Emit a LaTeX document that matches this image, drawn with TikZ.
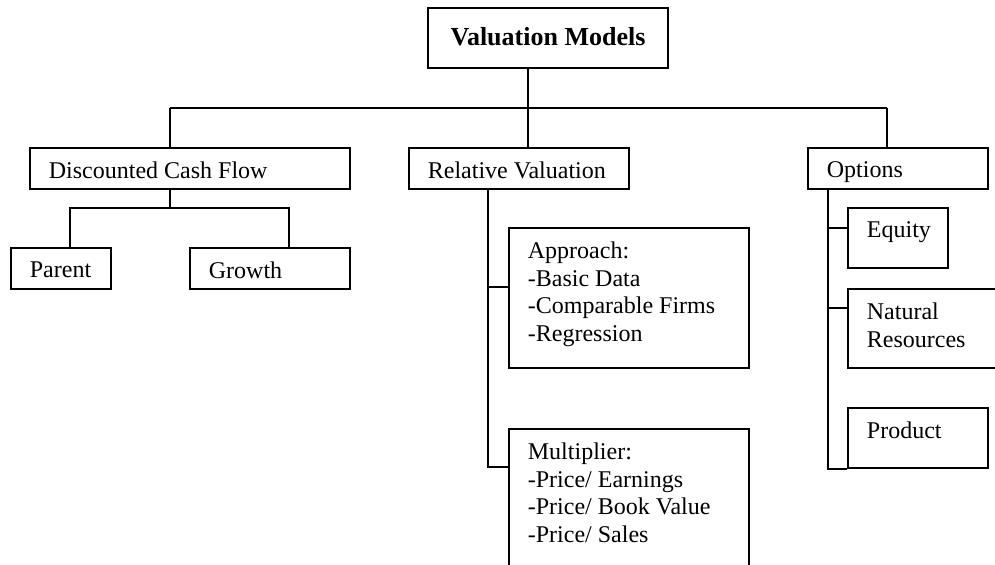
\documentclass[tikz,border=0pt]{standalone}
\usepackage{fontspec}
\setmainfont{Liberation Serif}
\usepackage{tikz}

\newcommand{\cellbox}[3]{\parbox[t][#2][t]{#1}{\raggedright\leftskip=9.5pt\vspace*{7pt}#3}}

\tikzset{
  cell/.style={draw, line width=0.9pt, anchor=north west, inner sep=0pt, font=\fontsize{12}{13.75}\selectfont},
  link/.style={line width=0.9pt}
}

\begin{document}
\begin{tikzpicture}[x=0.5pt,y=-0.5pt]
 \useasboundingbox (0,0) rectangle (995,565);
 \clip (0,0) rectangle (995,565);
 \node[cell, anchor=center, minimum width=120pt, minimum height=30pt, font=\bfseries\fontsize{13}{15}\selectfont] (title) at (548,38) {\raisebox{2pt}{Valuation Models}};
 \node[cell] (dcf) at (29,147) {\cellbox{160pt}{20.5pt}{Discounted Cash Flow}};
 \node[cell] (rel) at (408,147) {\cellbox{110pt}{20.5pt}{Relative Valuation}};
 \node[cell] (opt) at (807,147) {\cellbox{90pt}{20.5pt}{Options}};
 \node[cell] (parent) at (10,247) {\cellbox{50pt}{20.5pt}{Parent}};
 \node[cell] (growth) at (189,247) {\cellbox{80pt}{20.5pt}{Growth}};
 \node[cell] (approach) at (508,227) {\cellbox{120pt}{70pt}{Approach:\\-Basic Data\\-Comparable Firms\\-Regression}};
 \node[cell] (mult) at (508,428) {\cellbox{120pt}{95pt}{Multiplier:\\-Price/ Earnings\\-Price/ Book Value\\-Price/ Sales}};
 \node[cell] (equity) at (847,207) {\cellbox{50pt}{30pt}{Equity}};
 \node[cell] (natural) at (847,288) {\cellbox{95pt}{39.5pt}{Natural\\Resources}};
 \node[cell] (product) at (847,407) {\cellbox{70pt}{30pt}{Product}};
 % top level
 \coordinate (bus) at (528,108);
 \coordinate (busL) at (170,108);
 \coordinate (busR) at (887,108);
 \draw[link] (bus |- title.south) -- (bus);
 \draw[link] (busL) -- (busR);
 \draw[link] (busL) -- (busL |- dcf.north);
 \draw[link] (bus) -- (bus |- rel.north);
 \draw[link] (busR) -- (busR |- opt.north);
 % discounted cash flow
 \coordinate (dcfbus) at (170,208);
 \coordinate (dcfL) at (70,208);
 \coordinate (dcfR) at (289,208);
 \draw[link] (dcfbus |- dcf.south) -- (dcfbus);
 \draw[link] (dcfL |- parent.north) -- (dcfL) -- (dcfR) -- (dcfR |- growth.north);
 % relative valuation
 \coordinate (relA) at (488,287);
 \coordinate (relB) at (488,467);
 \draw[link] (relA |- rel.south) -- (relB) -- (relB -| mult.west);
 \draw[link] (relA) -- (relA -| approach.west);
 % options
 \coordinate (optA) at (828,228);
 \coordinate (optB) at (828,308);
 \draw[link] (optA |- opt.south) -- (optA |- product.south) -- (product.south west);
 \draw[link] (optA) -- (optA -| equity.west);
 \draw[link] (optB) -- (optB -| natural.west);
\end{tikzpicture}
\end{document}
